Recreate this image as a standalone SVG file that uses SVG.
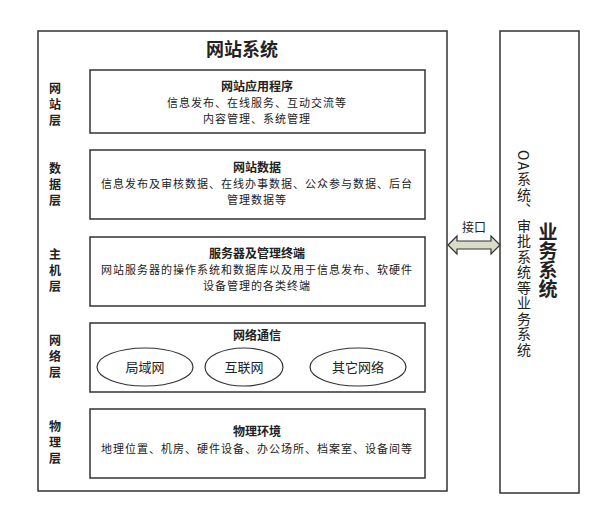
<svg xmlns="http://www.w3.org/2000/svg" width="600" height="522" viewBox="0 0 600 522">
<style>
text{font-family:"Noto Sans CJK SC","Liberation Sans",sans-serif;fill:#222;text-anchor:middle}
.box{fill:#fff;stroke:#333;stroke-width:1.5}
.t{font-size:12px;font-weight:bold}
.d{font-size:11px;letter-spacing:1px}
.lay{font-size:12px;font-weight:bold}
.ell{fill:#fff;stroke:#333;stroke-width:1.2}
</style>
<rect width="600" height="522" fill="#fff"/>
<g id="main"><rect class="box" x="38" y="31" width="409" height="460"/>
<text x="242" y="56" style="font-size:18px;font-weight:bold">网站系统</text></g>
<g id="labels">
<text class="lay" x="55" y="93">网</text><text class="lay" x="55" y="109">站</text><text class="lay" x="55" y="125">层</text>
<text class="lay" x="55" y="173">数</text><text class="lay" x="55" y="189">据</text><text class="lay" x="55" y="205">层</text>
<text class="lay" x="55" y="259">主</text><text class="lay" x="55" y="275">机</text><text class="lay" x="55" y="291">层</text>
<text class="lay" x="55" y="345">网</text><text class="lay" x="55" y="361">络</text><text class="lay" x="55" y="377">层</text>
<text class="lay" x="55" y="431">物</text><text class="lay" x="55" y="447">理</text><text class="lay" x="55" y="463">层</text>
</g>
<g id="app"><rect class="box" x="90" y="70" width="335" height="63"/>
<text class="t" x="257" y="91">网站应用程序</text>
<text class="d" x="257" y="107">信息发布、在线服务、互动交流等</text>
<text class="d" x="257" y="123">内容管理、系统管理</text></g>
<g id="data"><rect class="box" x="90" y="150" width="335" height="69"/>
<text class="t" x="257" y="172">网站数据</text>
<text class="d" x="257" y="188">信息发布及审核数据、在线办事数据、公众参与数据、后台</text>
<text class="d" x="257" y="204">管理数据等</text></g>
<g id="host"><rect class="box" x="90" y="237" width="335" height="69"/>
<text class="t" x="257" y="258">服务器及管理终端</text>
<text class="d" x="257" y="274">网站服务器的操作系统和数据库以及用于信息发布、软硬件</text>
<text class="d" x="257" y="290">设备管理的各类终端</text></g>
<g id="net"><rect class="box" x="90" y="323" width="335" height="69"/>
<text class="t" x="257" y="340">网络通信</text>
<ellipse class="ell" cx="145" cy="367" rx="48" ry="19"/><text x="145" y="372" style="font-size:13px">局域网</text>
<ellipse class="ell" cx="244" cy="367" rx="39" ry="19"/><text x="244" y="372" style="font-size:13px">互联网</text>
<ellipse class="ell" cx="358" cy="367" rx="48" ry="19"/><text x="358" y="372" style="font-size:13px">其它网络</text></g>
<g id="phys"><rect class="box" x="90" y="409" width="335" height="69"/>
<text class="t" x="257" y="436">物理环境</text>
<text class="d" x="257" y="453">地理位置、机房、硬件设备、办公场所、档案室、设备间等</text></g>
<g id="biz"><rect class="box" x="500" y="31" width="79" height="462"/>
<text x="524" y="150" style="font-size:14px;letter-spacing:1.5px;writing-mode:vertical-rl;text-anchor:start">OA系统、审批系统等业务系统</text>
<text x="548" y="222" style="font-size:19px;font-weight:bold;writing-mode:vertical-rl;text-anchor:start">业务系统</text></g>
<g id="connectors">
<path d="M448,245 L457,236 L457,241 L491,241 L491,236 L500,245 L491,254 L491,249 L457,249 L457,254 Z" fill="#d9dcc9" stroke="#333" stroke-width="1.2"/>
<text x="474" y="232" style="font-size:12px">接口</text></g>
</svg>
